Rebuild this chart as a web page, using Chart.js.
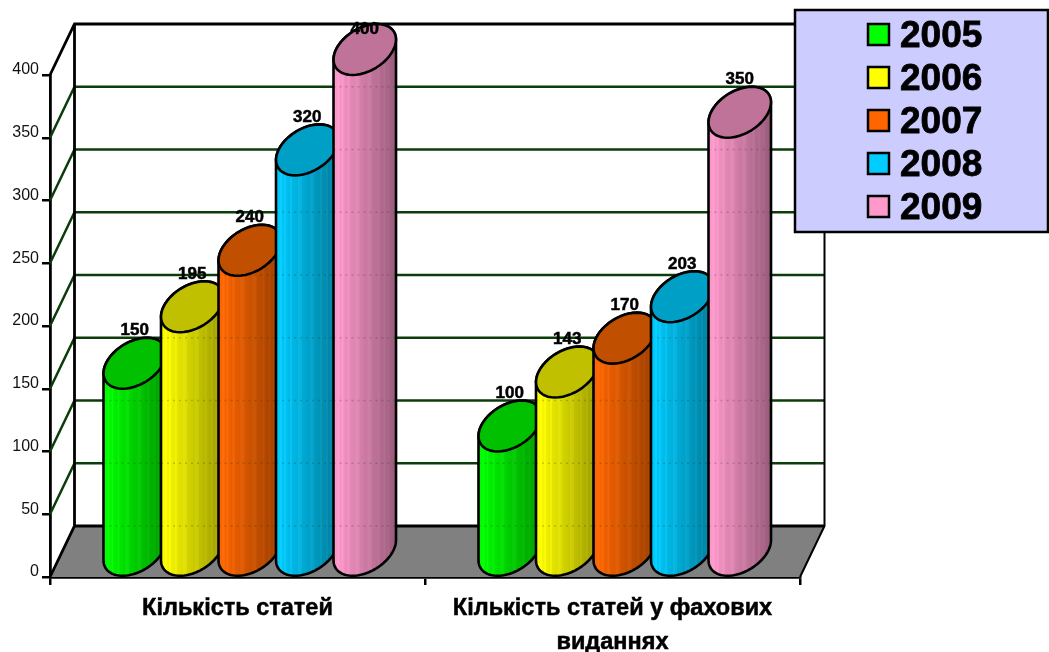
<!DOCTYPE html>
<html>
<head>
<meta charset="utf-8">
<title>Кількість статей</title>
<script src="https://cdn.jsdelivr.net/npm/chart.js@4/dist/chart.umd.min.js"></script>
<style>
  html, body { margin: 0; padding: 0; background: #fff; }
  canvas { display: block; }
</style>
</head>
<body>
<canvas id="chart" width="1049" height="652"></canvas>
<script>
const categories = [['Кількість статей'], ['Кількість статей у фахових', 'виданнях']];
const years = ['2005', '2006', '2007', '2008', '2009'];
const values2005 = [150, 100];
const values2006 = [195, 143];
const values2007 = [240, 170];
const values2008 = [320, 203];
const values2009 = [400, 350];
const yMax = 400;
const yStep = 50;

// side, body colours in legend order
const colors = [[0, 255, 0], [255, 255, 0], [255, 102, 0], [0, 204, 255], [255, 153, 204]];
const topColors = ['#00c000', '#c0c000', '#c05000', '#009fc6', '#c07399'];

const font = 'Arial, "Liberation Sans", sans-serif';
const depthX = 24.5;   // how far the back wall is shifted from the front plane
const depthY = 51;

function rgb(c, k) {
  return 'rgb(' + c.map(v => Math.min(255, Math.round(v * k))).join(',') + ')';
}

// point on the tilted ellipse around cx,cy
function ellipsePoint(cx, cy, halfW, a) {
  return [
    cx + halfW * Math.cos(a) + depthX / 2 * Math.sin(a),
    cy - depthY / 2 * Math.sin(a)
  ];
}

function traceEllipse(ctx, cx, cy, halfW, from, to) {
  const steps = 48;
  for (let i = 0; i <= steps; i++) {
    const a = from + (to - from) * i / steps;
    const p = ellipsePoint(cx, cy, halfW, a);
    ctx.lineTo(p[0], p[1]);
  }
}

function drawWalls(chart) {
  const { ctx, chartArea: area, scales } = chart;
  const y = scales.y;
  const l = area.left, r = area.right, t = area.top, b = area.bottom;
  ctx.save();

  ctx.fillStyle = '#808080';
  ctx.beginPath();
  ctx.moveTo(l, b);
  ctx.lineTo(l + depthX, b - depthY);
  ctx.lineTo(r + depthX, b - depthY);
  ctx.lineTo(r, b);
  ctx.closePath();
  ctx.fill();

  ctx.lineWidth = 2.5;
  ctx.strokeStyle = '#0b3d0b';
  y.ticks.forEach(tick => {
    if (tick.value === 0 || tick.value === yMax) return;
    const py = y.getPixelForValue(tick.value);
    ctx.beginPath();
    ctx.moveTo(l, py);
    ctx.lineTo(l + depthX, py - depthY);
    ctx.lineTo(r + depthX, py - depthY);
    ctx.stroke();
  });

  ctx.lineWidth = 2.8;
  ctx.strokeStyle = '#000';
  ctx.beginPath();
  ctx.moveTo(l, t);
  ctx.lineTo(l + depthX, t - depthY);
  ctx.lineTo(r + depthX, t - depthY);
  ctx.moveTo(l, b);
  ctx.lineTo(l + depthX, b - depthY);
  ctx.lineTo(r + depthX, b - depthY);
  ctx.moveTo(l + depthX, t - depthY);
  ctx.lineTo(l + depthX, b - depthY);
  ctx.stroke();

  ctx.lineWidth = 2;
  ctx.beginPath();
  ctx.moveTo(r + depthX, t - depthY);
  ctx.lineTo(r + depthX, b - depthY);
  ctx.lineTo(r, b);
  ctx.stroke();
  ctx.restore();
}

function drawCylinder(chart, bar, index) {
  const { ctx, scales } = chart;
  const base = bar.base, frontY = bar.y;
  const cx = bar.x + depthX / 2;
  const halfW = bar.width / 2;
  const radius = Math.sqrt(halfW * halfW + depthX * depthX / 4);
  const side = Math.atan2(depthX / 2, halfW);   // angle where the silhouette touches the ellipse
  const topY = frontY - depthY / 2;
  const botY = base - depthY / 2;
  const c = colors[index];

  const body = () => {
    ctx.beginPath();
    traceEllipse(ctx, cx, botY, halfW, Math.PI + side, 2 * Math.PI + side);
    traceEllipse(ctx, cx, topY, halfW, side, Math.PI + side);
    ctx.closePath();
  };

  ctx.save();
  body();
  ctx.clip();
  const stripeW = 2;
  const n = Math.ceil(radius * 2 / stripeW);
  for (let i = 0; i < n; i++) {
    const k = 1 - 0.42 * i / n;
    const light = (i % 5 === 2 || i % 7 === 4) ? 10 : 0;
    ctx.fillStyle = rgb(c.map(v => v + light), k);
    ctx.fillRect(cx - radius + i * stripeW, topY - depthY, stripeW + 0.5, botY - topY + depthY * 2);
  }
  // back wall grid lines show through faintly
  ctx.lineWidth = 1.5;
  ctx.strokeStyle = 'rgba(0,40,0,0.2)';
  ctx.setLineDash([2, 4]);
  scales.y.ticks.forEach(tick => {
    if (tick.value === yMax) return;
    const py = scales.y.getPixelForValue(tick.value) - depthY;
    ctx.beginPath();
    ctx.moveTo(cx - radius, py);
    ctx.lineTo(cx + radius, py);
    ctx.stroke();
  });
  ctx.restore();

  ctx.save();
  ctx.lineWidth = 2.6;
  ctx.strokeStyle = '#000';
  ctx.lineJoin = 'round';
  body();
  ctx.stroke();
  ctx.beginPath();
  traceEllipse(ctx, cx, topY, halfW, 0, 2 * Math.PI);
  ctx.closePath();
  ctx.fillStyle = topColors[index];
  ctx.fill();
  ctx.stroke();
  ctx.restore();
}

const cylinderPlugin = {
  id: 'cylinders',
  beforeDatasetsDraw(chart) {
    drawWalls(chart);
    chart.data.datasets.forEach((ds, i) => {
      chart.getDatasetMeta(i).data.forEach(bar => drawCylinder(chart, bar, i));
    });
    // value labels sit just above the top of each cylinder, kept below the wall edge
    const ctx = chart.ctx;
    ctx.save();
    ctx.font = 'bold 17px ' + font;
    ctx.fillStyle = '#000';
    ctx.strokeStyle = '#000';
    ctx.lineWidth = 0.5;
    ctx.textAlign = 'center';
    ctx.textBaseline = 'middle';
    chart.data.datasets.forEach((ds, i) => {
      chart.getDatasetMeta(i).data.forEach((bar, j) => {
        const ly = Math.max(bar.y - depthY - 7, chart.chartArea.top - 46);
        ctx.fillText(String(ds.data[j]), bar.x + depthX / 2, ly);
        ctx.strokeText(String(ds.data[j]), bar.x + depthX / 2, ly);
      });
    });
    ctx.restore();
  },
  beforeDatasetDraw() {
    return false;
  },
  afterDraw(chart) {
    const ctx = chart.ctx;
    ctx.save();
    ctx.fillStyle = '#ccccff';
    ctx.strokeStyle = '#000';
    ctx.lineWidth = 2.5;
    ctx.fillRect(795, 10, 253, 222);
    ctx.strokeRect(795, 10, 253, 222);
    ctx.font = 'bold 37px ' + font;
    ctx.textBaseline = 'middle';
    chart.data.datasets.forEach((ds, i) => {
      const rowY = 35 + i * 43;
      ctx.lineWidth = 2.5;
      ctx.fillStyle = ds.backgroundColor;
      ctx.fillRect(868, rowY - 11, 21, 21);
      ctx.strokeRect(868, rowY - 11, 21, 21);
      ctx.fillStyle = '#000';
      ctx.lineWidth = 0.8;
      ctx.fillText(ds.label, 900, rowY + 2);
      ctx.strokeText(ds.label, 900, rowY + 2);
    });
    ctx.restore();
  }
};

new Chart(document.getElementById('chart'), {
  type: 'bar',
  data: {
    labels: categories,
    datasets: [values2005, values2006, values2007, values2008, values2009].map((data, i) => ({
      label: years[i],
      data,
      backgroundColor: rgb(colors[i], 1),
      categoryPercentage: 0.7667,
      barPercentage: 1
    }))
  },
  options: {
    responsive: false,
    animation: false,
    layout: { padding: { top: 75, right: 249, left: 0, bottom: 0 }, autoPadding: false },
    plugins: { legend: { display: false }, tooltip: { enabled: false } },
    scales: {
      x: {
        afterFit: s => { s.height = 75; },
        grid: { drawOnChartArea: false, drawTicks: true, tickLength: 8, color: '#000', lineWidth: 2.5 },
        border: { color: '#000', width: 2.8 },
        ticks: {
          color: '#000',
          padding: 7,
          maxRotation: 0,
          textStrokeColor: '#000',
          textStrokeWidth: 0.5,
          font: { family: font, size: 23.5, weight: 'bold', lineHeight: 1.43 }
        }
      },
      y: {
        min: 0,
        max: yMax,
        afterFit: s => { s.width = 50; },
        grid: { drawOnChartArea: false, drawTicks: true, tickLength: 8, color: '#000', lineWidth: 2.5 },
        border: { color: '#000', width: 2.8 },
        ticks: {
          stepSize: yStep,
          color: '#111',
          padding: 3,
          labelOffset: -5,
          font: { family: font, size: 16 }
        }
      }
    }
  },
  plugins: [cylinderPlugin]
});
</script>
</body>
</html>
